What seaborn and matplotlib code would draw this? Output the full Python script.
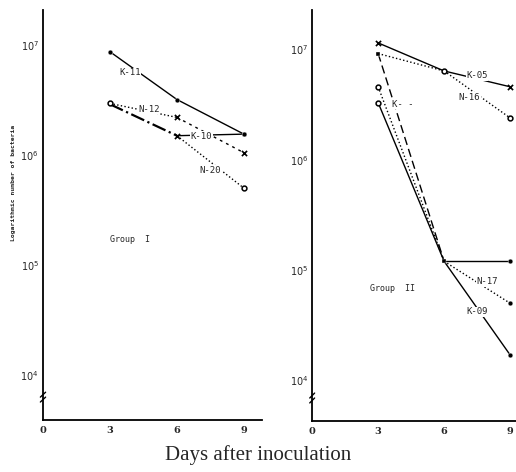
import numpy as np
import pandas as pd
import seaborn as sns
import matplotlib.pyplot as plt
from matplotlib.ticker import NullLocator, FixedLocator

# Data (bacteria counts, days 3 / 6 / 9)
days = [3, 6, 9]

# Group I
k11 = [8.7e6, 3.2e6, 1.55e6]
n12 = [2.95e6, 2.2e6, 1.05e6]
k10 = [2.9e6, 1.5e6, 1.55e6]
n20 = [2.9e6, 1.5e6, 5.0e5]

# Group II
k05 = [1.15e7, 6.4e6, 4.6e6]
n16 = [9.2e6, 6.4e6, 2.4e6]
k09 = [9.2e6, 1.2e5, 1.7e4]
n17 = [4.6e6, 1.2e5, 5.0e4]
k_x = [3.3e6, 1.2e5, 1.2e5]

# line style for segment 3->6 and 6->9, and marker for each point
group1 = [
    ("K-11", k11, ["-", "-"], ["dot", "dot", "dot"]),
    ("N-12", n12, [":", (0, (2, 3))], ["open", "x", "x"]),
    ("K-10", k10, ["-.", "-"], [None, "x", "dot"]),
    ("N-20", n20, [None, ":"], [None, None, "open"]),
]
group2 = [
    ("K-05", k05, ["-", "-"], ["x", "open", "x"]),
    ("N-16", n16, [":", ":"], ["sq", None, "open"]),
    ("K-09", k09, [(0, (6, 3)), "-"], ["sq", "sq", "dot"]),
    ("N-17", n17, [":", ":"], ["open", None, "dot"]),
    ("K-", k_x, ["-", "-"], ["open", None, "dot"]),
]

labels1 = [("K-11", 3.9, 5.6e6), ("N-12", 4.75, 2.6e6), ("K-10", 7.1, 1.48e6), ("N-20", 7.5, 7.3e5)]
labels2 = [("K-05", 7.5, 5.8e6), ("N-16", 7.15, 3.7e6), ("K- -", 4.1, 3.2e6), ("N-17", 7.95, 7.8e4), ("K-09", 7.5, 4.2e4)]

sns.set_style("white")
plt.rcParams["font.family"] = ["DejaVu Sans"]

fig = plt.figure(figsize=(5.16, 4.72), dpi=100)
ax1 = fig.add_axes([0.0833, 0.110, 0.424, 0.869])
ax2 = fig.add_axes([0.605, 0.108, 0.395, 0.871])

mark_kw = {
    "dot": dict(marker="o", s=12, color="black"),
    "open": dict(marker="o", s=12, facecolor="white", edgecolor="black", linewidth=1.1),
    "x": dict(marker="x", s=14, color="black", linewidth=1.2),
    "sq": dict(marker="s", s=10, color="black"),
}


def draw_group(ax, series, labels, ylim, xmax, group_text, gpos):
    ax.set_yscale("log")
    for name, vals, styles, marks in series:
        for i, ls in enumerate(styles):
            if ls is None:
                continue
            seg = pd.DataFrame({"day": days[i:i + 2], "n": vals[i:i + 2]})
            lw = 1.6 if ls == "-." else 1.0
            sns.lineplot(data=seg, x="day", y="n", ax=ax, color="black",
                         linestyle=ls, linewidth=lw, estimator=None, legend=False)
        for d, v, m in zip(days, vals, marks):
            if m is None:
                continue
            sns.scatterplot(x=[d], y=[v], ax=ax, legend=False, zorder=5, **mark_kw[m])
    for text, x, y in labels:
        ax.text(x, y, text, fontsize=6.5, family="DejaVu Sans Mono", ha="center",
                va="center", bbox=dict(facecolor="white", edgecolor="none", pad=0.3), zorder=4)
    ax.text(gpos[0], gpos[1], group_text, fontsize=6, family="DejaVu Sans Mono", va="center")

    ax.set_ylim(*ylim)
    ax.set_xlim(0, xmax)
    ax.set_xticks([0, 3, 6, 9])
    ax.set_xticklabels(["0", "3", "6", "9"], fontsize=7, family="DejaVu Serif", fontweight="bold")
    ax.yaxis.set_major_locator(FixedLocator([1e4, 1e5, 1e6, 1e7]))
    ax.yaxis.set_minor_locator(NullLocator())
    ax.tick_params(axis="y", direction="inout", length=4, width=1, labelsize=7, pad=1)
    ax.tick_params(axis="x", direction="inout", length=5, width=1, pad=2)
    ax.set_xlabel("")
    ax.set_ylabel("")
    for side in ["top", "right"]:
        ax.spines[side].set_visible(False)
    for side in ["left", "bottom"]:
        ax.spines[side].set_linewidth(1.3)
        ax.spines[side].set_color("black")
    # axis break mark near the bottom of the y axis
    for dy in (0.050, 0.062):
        ax.plot([-0.012, 0.012], [dy - 0.006, dy + 0.006], transform=ax.transAxes,
                color="black", linewidth=1.0, clip_on=False)


draw_group(ax1, group1, labels1, (10 ** 3.59, 10 ** 7.32), 9.8, "Group  I", (3.0, 10 ** 5.23))
draw_group(ax2, group2, labels2, (10 ** 3.63, 10 ** 7.36), 9.27, "Group  II", (2.65, 10 ** 4.83))

ax1.set_ylabel("Logarithmic number of bacteria", fontsize=4.6, family="DejaVu Sans Mono",
               fontweight="bold")
ax1.yaxis.set_label_coords(-0.125, 0.578)

fig.text(0.5, 0.035, "Days after inoculation", ha="center", va="center",
         fontsize=15, family="Liberation Serif")

fig.savefig("out.png", dpi=100, facecolor="white")
